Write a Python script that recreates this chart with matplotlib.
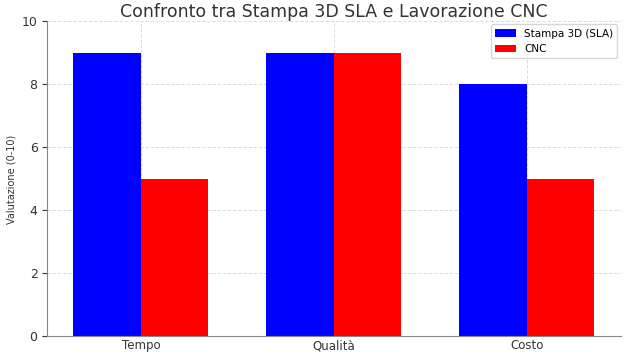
import matplotlib.pyplot as plt
import numpy as np

categories = ['Tempo', 'Qualità', 'Costo']
sla_values = [9, 9, 8]
cnc_values = [5, 9, 5]

x = np.arange(len(categories))
width = 0.35

fig, ax = plt.subplots(figsize=(6.3, 3.56), dpi=100)
ax.bar(x - width / 2, sla_values, width, label='Stampa 3D (SLA)', color='blue', zorder=2)
ax.bar(x + width / 2, cnc_values, width, label='CNC', color='red', zorder=2)

ax.set_title('Confronto tra Stampa 3D SLA e Lavorazione CNC', fontsize=12.5, color='#333333', pad=3)
ax.set_ylabel('Valutazione (0-10)', fontsize=7, color='#333333')
ax.set_xticks(x)
ax.set_xticklabels(categories, fontsize=8.5, color='#333333')
ax.set_ylim(0, 10)
ax.tick_params(axis='y', labelsize=9, colors='#333333')
ax.tick_params(axis='x', length=0, pad=2)
ax.grid(True, linestyle='--', color='#dddddd', linewidth=0.7, zorder=0)
for s in ['top', 'right']:
    ax.spines[s].set_visible(False)
for s in ['left', 'bottom']:
    ax.spines[s].set_color('#888888')
ax.legend(fontsize=7.5, loc='upper right', borderaxespad=0.3)

fig.subplots_adjust(left=0.075, right=0.985, top=0.94, bottom=0.055)
fig.savefig('out.png')
